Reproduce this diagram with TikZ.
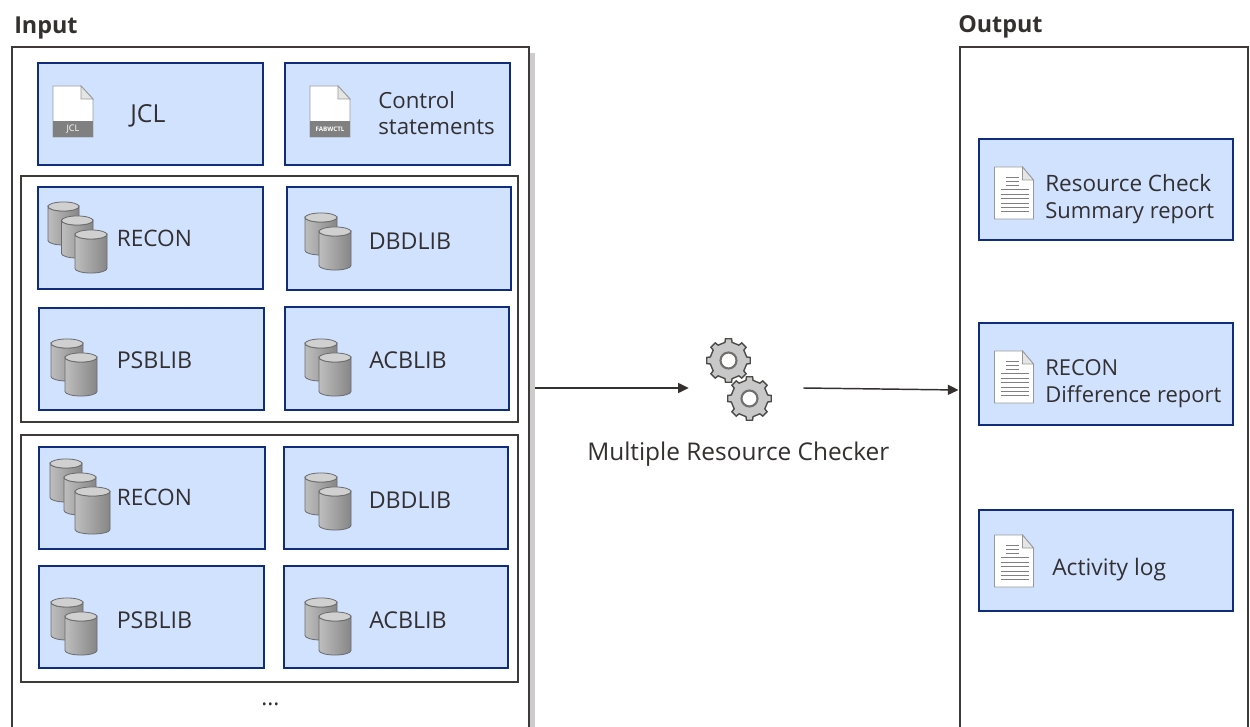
\documentclass[tikz,border=0pt]{standalone}
\usepackage{fontspec}
\usetikzlibrary{arrows.meta}
\setmainfont{Open Sans}
\definecolor{txt}{HTML}{33302F}
\definecolor{frame}{HTML}{3E3A38}
\definecolor{boxfill}{HTML}{D0E2FF}
\definecolor{boxline}{HTML}{0F2D7A}
\definecolor{shadowc}{HTML}{CCCCCC}
\definecolor{cylL}{HTML}{BEBEBE}
\definecolor{cylR}{HTML}{868686}
\definecolor{cyltop}{HTML}{D0D0D0}
\definecolor{cyledge}{HTML}{6A6A6A}
\definecolor{gearfill}{HTML}{C8C8C8}
\definecolor{gearedge}{HTML}{4E4C4B}
\tikzset{
  x=0.75pt,y=-0.75pt,
  bluebox/.style={draw=boxline,fill=boxfill,line width=1.3pt},
  panel/.style={draw=frame,line width=1.1pt},
  innerpanel/.style={draw=frame,line width=1.4pt,inner sep=0pt,anchor=north west,minimum width=372.75pt},
  lab/.style={font=\fontsize{17pt}{20.25pt}\selectfont,text=txt,inner sep=0pt,align=left,anchor=west},
  libA/.style={lab,font=\fontsize{17.4pt}{20pt}\selectfont},
  rep/.style={lab,font=\fontsize{16.5pt}{20.25pt}\selectfont},
  head/.style={font=\bfseries\fontsize{17.5pt}{20pt}\selectfont,text=txt,inner sep=0pt,anchor=west},
  conn/.style={draw=txt,line width=1.1pt,-{Triangle[length=8pt,width=7.5pt]}},
}
% x, y of top, width, total height
\newcommand{\cylat}[4]{%
  \path[left color=cylL,right color=cylR,draw=cyledge,line width=.6pt]
    (#1,#2+4.5) -- (#1,#2+#4-4.5)
    arc[start angle=180,end angle=360,x radius=#3/2*0.75pt,y radius=3.4pt]
    -- (#1+#3,#2+4.5)
    arc[start angle=0,end angle=-180,x radius=#3/2*0.75pt,y radius=3.4pt] -- cycle;
  \path[fill=cyltop,draw=cyledge,line width=.6pt] (#1+#3/2,#2+4.5) ellipse[x radius=#3/2*0.75pt,y radius=3.4pt];}
\newcommand{\twocyl}[2]{\cylat{#1}{#2}{32}{42}\cylat{#1+14}{#2+14}{32}{43}}
\newcommand{\docicon}[4]{%
  \path[fill=white,draw=gray!80,line width=.6pt] (#1,#2) -- (#1+28,#2) -- (#1+40,#2+13) -- (#1+40,#2+51) -- (#1,#2+51) -- cycle;
  \path[fill=gray!20,draw=gray!80,line width=.6pt] (#1+28,#2) -- (#1+40,#2+13) -- (#1+28,#2+13) -- cycle;
  \fill[black!50] (#1,#2+35) rectangle (#1+40,#2+51);
  \node[font=#4,text=white,inner sep=0pt] at (#1+20,#2+43.5) {#3};}
\newcommand{\repicon}[2]{%
  \path[fill=white,draw=gray!80,line width=.6pt] (#1,#2) -- (#1+28,#2) -- (#1+39,#2+13) -- (#1+39,#2+52) -- (#1,#2+52) -- cycle;
  \path[fill=gray!20,draw=gray!80,line width=.6pt] (#1+28,#2) -- (#1+39,#2+13) -- (#1+28,#2+13) -- cycle;
  \foreach \yy in {10,14,18} \draw[gray,line width=.5pt] (#1+11,#2+\yy) -- (#1+24,#2+\yy);
  \foreach \yy in {22,27,31,36,40,44} \draw[gray,line width=.5pt] (#1+6,#2+\yy) -- (#1+34,#2+\yy);}
\newcommand{\gearat}[2]{%
  \begin{scope}[shift={(#1,#2)}]
    \path[fill=gearfill,draw=gearedge,line width=1.05pt]
      (-90-11:18.5)
      \foreach \a in {-90,-45,0,45,90,135,180,225}{
        -- (\a-11:18.5) -- (\a-8:22) -- (\a+8:22) -- (\a+11:18.5) -- (\a+34:18.5)
      } -- cycle;
    \path[fill=white,draw=gearedge!80,line width=1.6pt] (0,0) circle[radius=6pt];
  \end{scope}}
\begin{document}
\begin{tikzpicture}
\path[use as bounding box] (0,0) rectangle (1250,727);
\fill[white] (0,0) rectangle (1250,727);
% panels
\fill[shadowc] (529,53) rectangle (535,727);
\draw[panel] (12,727) -- (12,47) -- (529,47) -- (529,727);
\draw[panel] (960,727) -- (960,47) -- (1248,47) -- (1248,727);
\coordinate (inR) at (535,388);
\coordinate (outL) at (958.5,390);
\node[head] (inhead) at (14,27.5) {Input};
\node[head] (outhead) at (958,26.5) {Output};
\node[innerpanel,minimum height=184.5pt] (g1) at (20,175) {};
\node[innerpanel,minimum height=185.25pt] (g2) at (20,434) {};
\foreach \nm/\xa/\ya/\xb/\yb in {
  jcl/38/63/263/165, ctl/285/63/510/165,
  ra/38/187/263/289, da/287/187/511/290, pa/39/308/264/410, aa/285/307/509/410,
  rb/39/447/265/549, db/284/447/508/549, pb/39/566/264/668, ab/284/566/508/668,
  o1/979/139/1233/240, o2/979/323/1233/425, o3/979/510/1233/611}
  \path[bluebox] (\xa,\ya) rectangle (\xb,\yb) node[midway,inner sep=0pt] (\nm) {};
% icons
\docicon{53}{86}{JCL}{\fontsize{6.8pt}{7pt}\selectfont}
\docicon{310}{86}{FABWCTL}{\bfseries\fontsize{4.7pt}{6pt}\selectfont}
\cylat{48}{202}{31}{43}\cylat{61.5}{216}{31.5}{42}\cylat{75}{230}{32}{43}
\twocyl{305}{213}
\twocyl{51}{339}
\twocyl{305}{339}
\cylat{50}{459}{32}{43}\cylat{64}{473}{32}{42}\cylat{75}{487}{35}{47}
\twocyl{305}{473}
\twocyl{51}{598}
\twocyl{305}{598}
\repicon{994.5}{167}
\repicon{994.5}{351}
\repicon{994.5}{535}
% labels
\node[lab,font=\fontsize{18.6pt}{20pt}\selectfont] (tjcl) at (130,116) {JCL};
\node[lab,font=\fontsize{16.7pt}{20pt}\selectfont] (tctl) at (378,113) {Control\\statements};
\node[lab] (t1) at (116.5,238) {RECON};
\node[libA] (t2) at (368.5,241) {DBDLIB};
\node[libA] (t3) at (116.5,360) {PSBLIB};
\node[libA] (t4) at (369,360) {ACBLIB};
\node[lab] (t5) at (116.5,497) {RECON};
\node[libA] (t6) at (368.5,500) {DBDLIB};
\node[libA] (t7) at (116.5,620) {PSBLIB};
\node[libA] (t8) at (369,620) {ACBLIB};
\node[rep] (t9) at (1045,199.5) {{\fontsize{16.9pt}{20.25pt}\selectfont Resource Check}\\Summary report};
\node[rep] (t10) at (1045,383.5) {RECON\\Difference report};
\node[rep,font=\fontsize{17.1pt}{20pt}\selectfont] (t11) at (1052,570) {Activity log};
\node[lab,font=\fontsize{18.3pt}{20pt}\selectfont] (t12) at (587,454) {Multiple Resource Checker};
\node[lab] (dots) at (261,704) {...};
% gears
\gearat{728.5}{360.5}
\gearat{749.5}{398.5}
\node[inner sep=0pt,minimum width=85.5pt,minimum height=0pt] (gears) at (746,388) {};
% connectors
\draw[conn] (inR) -- (gears.west);
\draw[conn] (gears.east) -- (outL);
\end{tikzpicture}
\end{document}
